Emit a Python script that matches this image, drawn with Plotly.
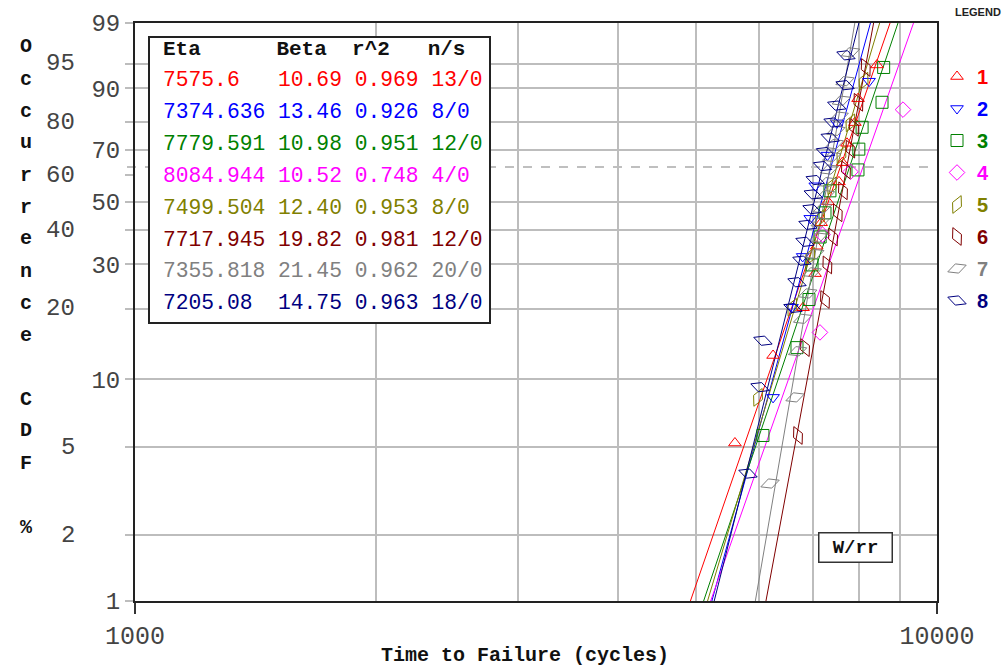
import numpy as np
import plotly.graph_objects as go

# ---------------- data ----------------
series_names = ["1", "2", "3", "4", "5", "6", "7", "8"]
eta = [7575.6, 7374.636, 7779.591, 8084.944, 7499.504, 7717.945, 7355.818, 7205.08]
beta = [10.69, 13.46, 10.98, 10.52, 12.40, 19.82, 21.45, 14.75]
r2 = ["0.969", "0.926", "0.951", "0.748", "0.953", "0.981", "0.962", "0.963"]
ns = ["13/0", "8/0", "12/0", "4/0", "8/0", "12/0", "20/0", "18/0"]
eta_txt = ["7575.6", "7374.636", "7779.591", "8084.944", "7499.504", "7717.945", "7355.818", "7205.08"]
beta_txt = ["10.69", "13.46", "10.98", "10.52", "12.40", "19.82", "21.45", "14.75"]

# failure times (cycles)
times_1 = [5598, 6246, 6806, 7045, 7080, 7170, 7311, 7546, 7620, 7722, 7900, 7972, 8418]
times_2 = [6246, 6595, 6800, 6950, 7050, 7300, 7500, 8228]
times_3 = [6067, 6690, 6924, 6985, 7150, 7250, 7354, 7970, 7990, 8065, 8540, 8580]
times_4 = [7146, 7200, 7800, 9070]
times_5 = [5982, 6600, 6950, 7150, 7400, 7600, 7800, 8100]
times_6 = [6709, 6846, 7250, 7300, 7420, 7520, 7634, 7700, 7800, 7880, 7980, 8150]
times_7 = [6192, 6653, 6700, 6800, 6900, 6990, 7040, 7110, 7150, 7200, 7260, 7300,
           7340, 7390, 7450, 7480, 7550, 7600, 7680, 7800]
times_8 = [5812, 6016, 6067, 6613, 6690, 6786, 6846, 6905, 6985, 7010, 7050, 7200,
           7260, 7360, 7420, 7500, 7680, 7700]
all_times = [times_1, times_2, times_3, times_4, times_5, times_6, times_7, times_8]

y_tick_pct = [1, 2, 5, 10, 20, 30, 40, 50, 60, 70, 80, 90, 95, 99]
y_offset_pct = [2, 5, 20, 40, 60, 80, 95]
x_grid_vals = [2000, 3000, 4000, 5000, 6000, 7000, 8000, 9000]
y_title_chars = ["O", "c", "c", "u", "r", "r", "e", "n", "c", "e", "", "C", "D", "F", "", "%"]
x_title = "Time to Failure (cycles)"

# ---------------- styles ----------------
colors = ["#FF0000", "#0000FF", "#008000", "#FF00FF", "#808000", "#800000", "#808080", "#000080"]
symbols = ["triangle-up-open", "triangle-down-open", "square-open", "diamond-open",
           "diamond-tall-open", "diamond-tall-open", "diamond-wide-open", "diamond-wide-open"]
angles = [0, 0, 0, 0, 25, -25, -20, 20]
sizes = [11, 11, 12, 12, 14, 14, 14, 14]

MONO = "Liberation Mono"
NB = "\u00a0"


def wy(F):
    F = np.asarray(F, dtype=float)
    return np.log(-np.log(1.0 - F))


fig = go.Figure()

F_lo, F_hi = 0.01, 0.99
# fit lines
for i in range(8):
    ys = wy([F_lo, F_hi])
    xs = eta[i] * np.exp(ys / beta[i])
    fig.add_trace(go.Scatter(x=xs, y=ys, mode="lines",
                             line=dict(color=colors[i], width=1),
                             showlegend=False, hoverinfo="skip"))

# data points (median ranks, Bernard)
for i in range(8):
    t = np.array(all_times[i], dtype=float)
    n = len(t)
    F = (np.arange(1, n + 1) - 0.3) / (n + 0.4)
    fig.add_trace(go.Scatter(
        x=t, y=wy(F), mode="markers",
        marker=dict(symbol=symbols[i], size=sizes[i], angle=angles[i],
                    color=colors[i], line=dict(color=colors[i], width=1)),
        name="<b><span style='color:%s'>%s</span></b>" % (colors[i], series_names[i]),
        legendgroup="g%d" % i,
    ))

# ---------------- axes ----------------
ytv = list(wy(np.array(y_tick_pct) / 100.0))
ytt = ["" if p in y_offset_pct else "%d" % p for p in y_tick_pct]
grid_pct = [p for p in y_tick_pct if p != 60]

fig.update_xaxes(
    type="log", range=[3, 4], automargin=False,
    tickvals=[1000, 10000], ticktext=["1000", "10000"],
    ticks="outside", ticklen=11, tickwidth=2, tickcolor="#333",
    showgrid=False,
    minor=dict(tickvals=x_grid_vals, showgrid=True, gridcolor="#BDBDBD", gridwidth=1.5, ticks=""),
    showline=True, linecolor="#222", linewidth=2, mirror=True,
    tickfont=dict(family=MONO, size=25, color="#444"),
    zeroline=False,
)
fig.update_yaxes(
    range=[float(wy(F_lo)), float(wy(F_hi))], automargin=False,
    tickvals=ytv, ticktext=ytt,
    ticks="outside", ticklen=8, tickwidth=1.5, tickcolor="#BDBDBD",
    showgrid=False,
    minor=dict(tickvals=list(wy(np.array(grid_pct) / 100.0)), showgrid=True,
               gridcolor="#BDBDBD", gridwidth=1.5, ticks=""),
    showline=True, linecolor="#222", linewidth=2, mirror=True,
    tickfont=dict(family=MONO, size=24, color="#444"),
    zeroline=False,
)

L, R, T, B = 135, 937, 23, 601
W, H = R - L, B - T


def px(xp):
    return (xp - L) / W


def py(yp):
    return (B - yp) / H


# staggered y tick labels (drawn further left)
for p in y_offset_pct:
    fig.add_annotation(xref="paper", yref="y", x=px(77), y=float(wy(p / 100.0)),
                       xanchor="right", yanchor="middle", showarrow=False, text="%d" % p,
                       font=dict(family=MONO, size=24, color="#444"))

# x-axis title
fig.add_annotation(xref="paper", yref="paper", x=px(525), y=py(655), showarrow=False,
                   text="<b>" + x_title + "</b>", yanchor="middle",
                   font=dict(family=MONO, size=20, color="#111"))

# 63.2 % characteristic-life dashed line
fig.add_shape(type="line", xref="paper", yref="y", x0=-0.01, x1=1.0, y0=0, y1=0,
              line=dict(color="#AAAAAA", width=1.5, dash="dash"), layer="below")

# ---------------- parameter table ----------------
fig.add_shape(type="rect", xref="paper", yref="paper",
              x0=px(149), x1=px(490), y0=py(323), y1=py(37),
              line=dict(color="#222", width=2), fillcolor="white", layer="above")


def row(a, b, c, d):
    return a.ljust(9, NB) + b.ljust(6, NB) + c.ljust(6, NB) + d


fig.add_annotation(xref="paper", yref="paper", x=px(161), y=py(49), xanchor="left", yanchor="middle",
                   text="<b>" + row("Eta", "Beta", "r^2", "n/s") + "</b>", showarrow=False,
                   font=dict(family=MONO, size=21, color="#111"))
for i in range(8):
    fig.add_annotation(xref="paper", yref="paper", x=px(161), y=py(80 + 31.9 * i),
                       xanchor="left", yanchor="middle", showarrow=False,
                       text=row(eta_txt[i], beta_txt[i], r2[i], ns[i]),
                       font=dict(family=MONO, size=21.3, color=colors[i]))

# W/rr box
fig.add_annotation(xref="paper", yref="paper", x=px(893), y=py(563), showarrow=False,
                   text="<b>W/rr</b>", font=dict(family=MONO, size=19, color="#111"),
                   bordercolor="#333", borderwidth=1.5, bgcolor="white", width=70, height=26)

# Y-axis stacked title
for k, ch in enumerate(y_title_chars):
    if ch:
        fig.add_annotation(xref="paper", yref="paper", x=px(18), y=py(47 + 32.0 * k),
                           showarrow=False, text="<b>" + ch + "</b>", yanchor="middle",
                           font=dict(family=MONO, size=20, color="#111"))

# LEGEND label
fig.add_annotation(xref="paper", yref="paper", x=px(1002), y=py(12), showarrow=False,
                   xanchor="right", yanchor="middle", borderpad=0,
                   text="<b>LEGEND</b>",
                   font=dict(family="Liberation Sans Narrow, Liberation Sans", size=11, color="#222"))

fig.update_layout(
    width=1003, height=667,
    margin=dict(l=L, r=1003 - R, t=T, b=667 - B, autoexpand=False),
    plot_bgcolor="white", paper_bgcolor="white",
    legend=dict(x=1.0, xanchor="left", y=py(57), yanchor="top",
                font=dict(family="Liberation Sans", size=20),
                itemwidth=30, tracegroupgap=3, bgcolor="rgba(0,0,0,0)"),
    showlegend=True,
)

fig.write_html("out.html", config={"displayModeBar": False},
               post_script="document.body.style.margin='0';document.documentElement.style.overflow='hidden';")
